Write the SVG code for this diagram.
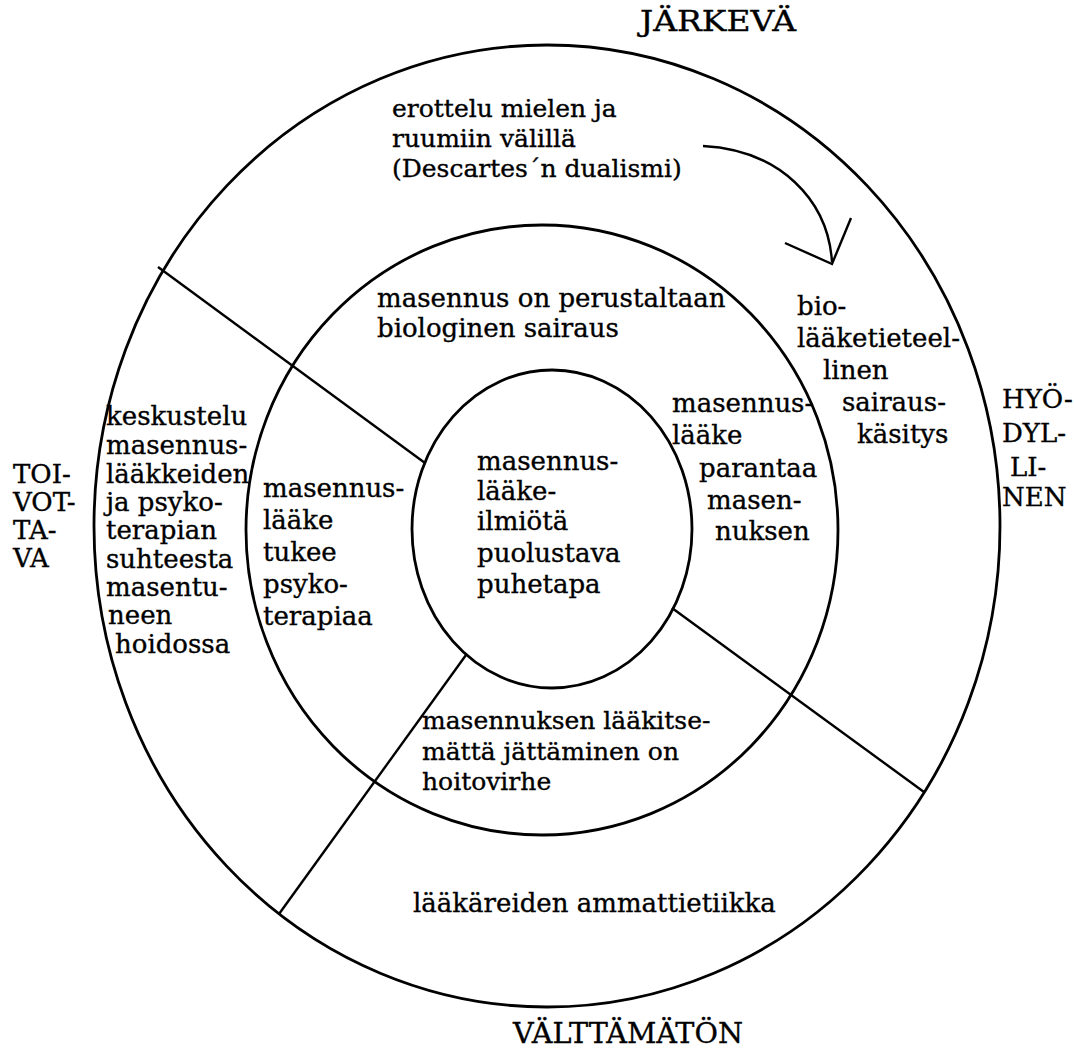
<svg xmlns="http://www.w3.org/2000/svg" width="1074" height="1050" viewBox="0 0 1074 1050">
<style>
.ring{fill:none;stroke:#000;stroke-width:2.8}
.ln{fill:none;stroke:#000;stroke-width:2.4}
.t{font-family:"DejaVu Serif","Liberation Serif",serif;font-size:26px;fill:#000;stroke:#000;stroke-width:0.35}
.s{font-size:25px}
.cap{font-size:28px}
</style>
<rect width="1074" height="1050" fill="#fff"/>
<g id="outer-ring"><ellipse class="ring" cx="547" cy="526" rx="453" ry="481"/></g>
<g id="middle-ring"><ellipse class="ring" cx="542" cy="530" rx="296" ry="305"/></g>
<g id="inner-core"><ellipse class="ring" cx="552" cy="529" rx="140" ry="159"/>
<text class="t"><tspan x="477" y="470">masennus-</tspan><tspan x="477" y="500">lääke-</tspan><tspan x="477" y="530">ilmiötä</tspan><tspan x="477" y="562">puolustava</tspan><tspan x="477" y="593">puhetapa</tspan></text></g>
<g id="connectors">
<line class="ln" x1="158" y1="267" x2="425" y2="463"/>
<line class="ln" x1="672" y1="608" x2="924" y2="792"/>
<line class="ln" x1="466" y1="655" x2="279" y2="914"/>
<path class="ln" d="M703,146 C780,150 828,200 832,262"/>
<polyline class="ln" points="785,243 832,264 851,218"/>
</g>
<g id="label-jarkeva"><text class="t cap" x="640" y="31" textLength="156" lengthAdjust="spacingAndGlyphs">JÄRKEVÄ</text></g>
<g id="label-hyodyllinen"><text class="t"><tspan x="1002" y="408">HYÖ-</tspan><tspan x="1002" y="442">DYL-</tspan><tspan x="1010" y="476">LI-</tspan><tspan x="1002" y="506">NEN</tspan></text></g>
<g id="label-toivottava"><text class="t"><tspan x="13" y="483">TOI-</tspan><tspan x="13" y="511">VOT-</tspan><tspan x="13" y="539">TA-</tspan><tspan x="13" y="567">VA</tspan></text></g>
<g id="label-valttamaton"><text class="t cap" x="513" y="1043" textLength="230" lengthAdjust="spacingAndGlyphs">VÄLTTÄMÄTÖN</text></g>
<g id="dualism"><text class="t s"><tspan x="392" y="117">erottelu mielen ja</tspan><tspan x="392" y="147">ruumiin välillä</tspan><tspan x="392" y="177">(Descartes´n dualismi)</tspan></text></g>
<g id="biomedical"><text class="t"><tspan x="797" y="315">bio-</tspan><tspan x="797" y="347">lääketieteel-</tspan><tspan x="823" y="379">linen</tspan><tspan x="842" y="411">sairaus-</tspan><tspan x="857" y="443">käsitys</tspan></text></g>
<g id="biological"><text class="t"><tspan x="377" y="307">masennus on perustaltaan</tspan><tspan x="377" y="337">biologinen sairaus</tspan></text></g>
<g id="cures"><text class="t"><tspan x="672" y="412">masennus-</tspan><tspan x="672" y="444">lääke</tspan><tspan x="699" y="477">parantaa</tspan><tspan x="707" y="509">masen-</tspan><tspan x="715" y="540">nuksen</tspan></text></g>
<g id="supports"><text class="t"><tspan x="263" y="497">masennus-</tspan><tspan x="263" y="529">lääke</tspan><tspan x="263" y="561">tukee</tspan><tspan x="263" y="593">psyko-</tspan><tspan x="263" y="625">terapiaa</tspan></text></g>
<g id="discussion"><text class="t"><tspan x="106" y="425">keskustelu</tspan><tspan x="106" y="454">masennus-</tspan><tspan x="106" y="483">lääkkeiden</tspan><tspan x="106" y="511">ja psyko-</tspan><tspan x="106" y="539">terapian</tspan><tspan x="106" y="568">suhteesta</tspan><tspan x="106" y="596">masentu-</tspan><tspan x="108" y="624">neen</tspan><tspan x="115" y="653">hoidossa</tspan></text></g>
<g id="malpractice"><text class="t s"><tspan x="422" y="729">masennuksen lääkitse-</tspan><tspan x="422" y="760">mättä jättäminen on</tspan><tspan x="422" y="790">hoitovirhe</tspan></text></g>
<g id="ethics"><text class="t" x="413" y="912">lääkäreiden ammattietiikka</text></g>
</svg>
